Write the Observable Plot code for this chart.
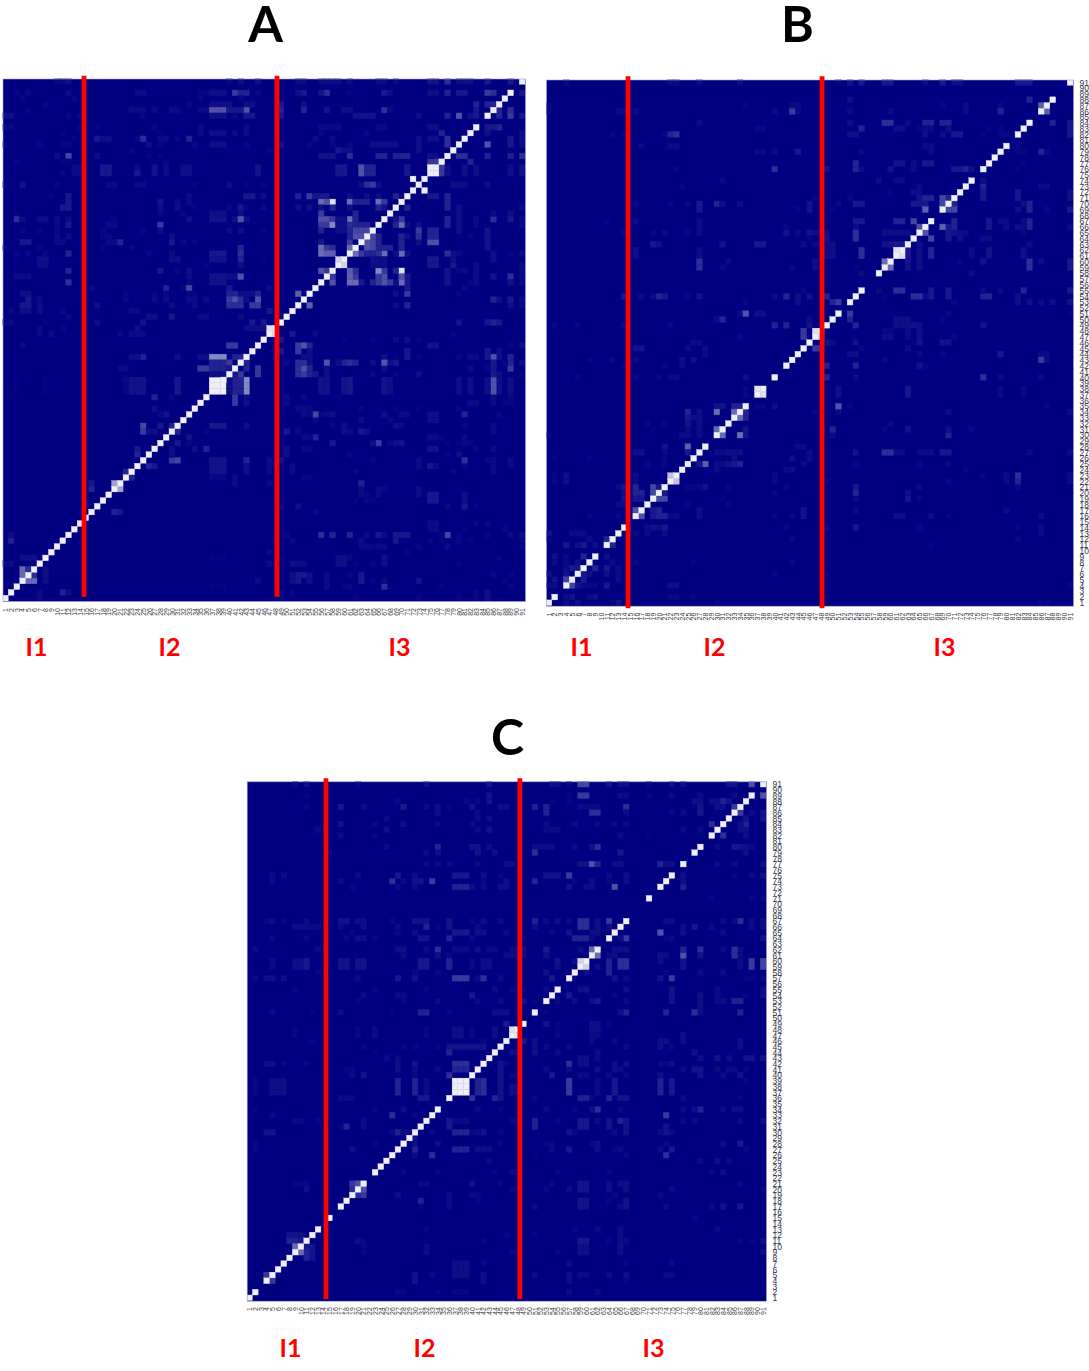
<!DOCTYPE html>
<html>
<head>
<meta charset="utf-8">
<script src="https://cdn.jsdelivr.net/npm/d3@7"></script>
<script src="https://cdn.jsdelivr.net/npm/@observablehq/plot@0.6"></script>
<style>
html,body{margin:0;padding:0;background:#fff;overflow:hidden}
#page{position:relative;width:1089px;height:1371px}
#page svg{position:absolute;background:transparent;overflow:visible}
</style>
</head>
<body>
<div id="page"></div>
<script>
const indices = [1,2,3,4,5,6,7,8,9,10,11,12,13,14,15,16,17,18,19,20,21,22,23,24,25,26,27,28,29,30,31,32,33,34,35,36,37,38,39,40,41,42,43,44,45,46,47,48,49,50,51,52,53,54,55,56,57,58,59,60,61,62,63,64,65,66,67,68,69,70,71,72,73,74,75,76,77,78,79,80,81,82,83,84,85,86,87,88,89,90,91];
const intervals = ["I1","I2","I3"];

// Diagonal cells present in each matrix
const diagA = [1,2,3,4,5,6,7,8,9,10,11,12,13,14,15,16,17,18,19,20,21,22,23,24,25,26,27,28,29,30,31,32,33,34,35,36,37,38,39,40,41,42,43,44,45,46,47,48,49,50,51,52,53,54,55,56,57,58,59,60,61,62,63,64,65,66,67,68,69,70,71,72,73,74,75,76,77,78,79,80,81,82,83,85,86,87,88,89,91];
const diagB = [1,2,4,5,6,7,8,9,11,12,13,14,16,17,18,19,20,21,22,23,24,25,26,27,28,30,31,32,33,34,35,37,38,40,42,43,44,45,46,47,48,49,50,51,53,54,55,58,59,60,61,62,63,64,65,66,67,69,70,71,72,73,74,76,77,78,79,80,82,83,84,86,87,88,91];
const diagC = [1,2,4,5,6,7,8,9,10,11,12,13,15,17,18,19,20,21,23,24,25,26,27,28,29,30,31,32,33,34,36,37,38,39,40,41,42,43,44,45,46,47,48,49,51,53,54,55,57,58,59,60,61,62,64,65,66,67,71,73,74,75,77,79,80,82,83,84,85,86,87,88,89,91];

// Off-diagonal similarity: [row, value, ...columns]; the matrices are symmetric
const pairsA = [
[91,.06,10,11,40],[91,.1,12,42,45],[89,.06,3,5,35,36,45],[89,.08,12,24,25],[89,.1,37,38,39],[89,.3,41],[89,.2,42,43],[88,.06,4,13,35,42],
[87,.06,8,33],[87,.1,37,38,39,40,43,44],[86,.06,5],[86,.08,23,24,25,27,30,31,35,36],[86,.4,37,38,39,43],[86,.15,40,41,42],
[85,.1,1,2,37,38,39],[85,.06,12,14,25,41],[85,.15,43,44],[83,.06,1,2,14,27],[83,.05,17],[83,.08,35,43],[82,.05,11,28],[82,.08,35,41,43],[82,.1,37,38,39],
[81,.05,13],[81,.15,17],[81,.1,18,19],[81,.06,24,31],[81,.25,25],[81,.08,28,29],[81,.2,33],[80,.05,1,7,28],[80,.06,11,12,34,43],[80,.1,26,37,38,39],
[79,.06,23,47],[78,.08,10,17],[78,.35,12],[78,.05,26,28],[77,.05,3,11,12,29],[76,.08,13,14,24,29],[76,.15,18,19],[76,.12,27,45],[76,.1,32,33],
[75,.06,11],[75,.08,13,14,29],[75,.15,18,19,24],[75,.12,27,45],[75,.1,32,33],[73,.05,1,34,43,46],[73,.12,4],[73,.06,10],[73,.08,19,20,24,25],[73,.1,40],
[71,.05,9],[71,.15,12,43,44],[71,.08,33],[71,.1,46],[70,.15,12],[70,.12,28],[70,.08,31,33],[69,.15,11,12,42],[69,.1,28,31],[69,.05,34,43],[69,.06,40],[69,.08,46],
[68,.05,3],[68,.06,28,32],[68,.1,37,38,39,42],[67,.25,3],[67,.08,4,10,12],[67,.1,7,8,33,41,43],[67,.06,20],[67,.12,37,38,39],[67,.4,42],
[66,.08,10,19,20],[66,.15,12],[66,.3,28],[65,.06,4,7,10,18,25],[65,.1,28,42],[65,.08,40],[65,.05,46],[64,.08,10,12],[64,.06,18,19],[64,.1,30],
[63,.15,4,5,30],[63,.08,10,11,19,20,32],[63,.2,21],[63,.06,34],[62,.05,1,7,18],[62,.06,23],[62,.2,42],[61,.06,3,5,8,26],[61,.2,12],[61,.08,30],[61,.15,37,38,39],[61,.25,42],
[60,.05,3,46],[60,.1,7,8,30,31],[60,.12,37,38,39],[60,.2,42],[59,.1,7,8,42],[59,.05,36],[58,.2,12],[58,.15,28],[58,.06,31],[58,.1,33],
[57,.08,3,4,5,33],[57,.12,37,38,39],[57,.1,40,41],[57,.4,42],[56,.25,12],[56,.06,33],[56,.12,37,38,39],[55,.06,16,32],[55,.2,29],[55,.35,33],[55,.15,40],[55,.08,47],
[54,.1,4,5,42,43,44],[54,.06,22,27,29,33,34],[54,.2,40,41,45],[53,.15,5],[53,.08,7,27,29,33,34,36],[53,.06,22],[53,.3,40],[53,.4,41,45],[53,.25,42],[53,.1,43],
[52,.15,4,5],[52,.08,7,30,34],[52,.1,17],[52,.25,40,41,42],[52,.3,44,45],[51,.06,2,11],[51,.1,4,5,7],[51,.08,23,24],[51,.15,47],[50,.06,12],[50,.1,26,27],[50,.15,30],[50,.08,35,36,42],
[49,.08,1,2,17],[49,.05,8],[49,.12,25],[49,.15,44,46],[48,.08,7],[48,.06,11],[48,.1,24,43,44,45,46],[47,.08,7,9,21,23,24,25],
[91,.08,52,53,56,57,58,59,61,66,67,69],[91,.12,75,76],[91,.25,78],[91,.1,80,81,82],[91,.15,85,89],
[89,.1,52,68,75,76],[89,.15,53,67,80,81],[89,.25,57,86],[89,.12,56],[89,.05,61],[89,.2,78],[89,.3,85],[87,.15,49],[87,.1,53],[87,.2,83,85,86],
[86,.2,49,53,89],[86,.12,57],[86,.1,60,61],[86,.25,67],[86,.08,68],[86,.15,83],[85,.15,49,78],[85,.12,62,63,64,65,87],[85,.4,80],[85,.1,82,83],[85,.2,89],
[83,.08,56,57,58,59,66,67],[83,.1,75,76],[83,.15,85,86,87],[82,.06,56,64],[82,.2,77],[81,.08,55,58],[81,.1,73,75,76],[81,.2,78],[81,.15,89],
[80,.12,49],[80,.06,54,58,61,73],[80,.1,65,66,67,68,69],[80,.2,78],[79,.1,59,60,61],[78,.12,56,57,58],[78,.25,61,80,81],[78,.2,66,67,69,70,71,85,89,91],[77,.15,75,82],
[76,.1,59,60,71,78,83],[76,.3,63,77],[76,.12,64,65],[75,.1,59,60,71,78,83],[75,.3,63,77],[75,.12,64,65],[73,.1,63,64,66,79,80,81,85],[73,.3,65],
[71,.2,52,69],[71,.3,54],[71,.15,55,56,57,75,76],[71,.1,61,64,66,78],[70,.4,56,61],[70,.7,58],[70,.2,62,63,64],[70,.5,66],[70,.25,67],[69,.1,52,54,56,61,71],[69,.2,78],
[67,.35,56,57],[67,.5,61],[67,.1,58],[67,.2,62],[67,.12,69],[67,.3,70],[66,.3,56,57],[66,.6,58],[66,.25,61],[66,.2,62,63,64,69,78],[66,.5,70],
[65,.35,62,63,64],[65,.2,56,75,76],[65,.3,73],[64,.4,62,63],[64,.25,73],[64,.2,75,76],[63,.15,56],[63,.3,61],[63,.4,75,76],[62,.25,56,57,58],[62,.5,61],[62,.2,66,67,68],
[61,.5,56],[61,.35,57,58],[61,.2,64,65,66],[61,.45,67],[61,.5,70],[61,.25,78],[60,.1,65,66,67,79],[60,.15,75,76],[59,.1,65,66,67],[59,.15,75,76,79],
[58,.4,56],[58,.45,61],[58,.25,62],[58,.6,66],[58,.3,67],[58,.2,69],[58,.9,70],[57,.45,61],[57,.3,62,58],[57,.4,67,70],[56,.5,61,62,70],[56,.4,67],[56,.3,68],
[60,.85,59],[76,.95,75],[74,.95,72],[54,.45,52],[48,.9,47],[21,.7,20],[38,.95,37],[39,.95,37,38],
[45,.08,4],[45,.3,40,41],[43,.2,25,41,42],[43,.1,23,24,31,35,36],[43,.6,37,38,39],[42,.2,37,38,39],[42,.3,40],[41,.3,35,36],[41,.2,37,38,39],[41,.15,40],[41,.08,21,22],[40,.1,37,38,39],
[39,.12,23,24,25],[39,.06,22],[39,.15,31],[39,.04,3,8],[38,.12,23,24,25],[38,.06,22],[38,.15,31],[38,.04,3,8],[37,.12,23,24,25],[37,.06,22],[37,.15,31],[37,.04,3,8],
[36,.2,27],[36,.06,30],[31,.35,25],[31,.15,28],[31,.2,30],[30,.3,25],[30,.1,26,27],[33,.12,29],[34,.1,27],[33,.06,28],[27,.15,24],[26,.2,24],[23,.2,22],[21,.15,16],[20,.2,16],
[6,.5,4],[5,.5,4],[6,.25,5],[11,.2,2],[12,.1,2],[7,.08,1,2],[8,.1,4,5,6]
];
const pairsB = [
[91,.06,4],[91,.08,22,23,27,34],[87,.06,1,35],[87,.08,43,44],[86,.06,1],[86,.08,13,14,16,40,44],[86,.3,43],[84,.08,27],[83,.06,37,38],[82,.06,12,14,21],[82,.2,22],[82,.25,23],
[80,.08,17,22,23],[79,.08,37,38,40],[79,.15,44],[76,.06,23],[76,.25,40],[74,.06,31],[73,.06,24],[71,.06,47],[70,.06,16,22,25],[70,.15,27],[70,.2,30],[70,.1,31],[70,.08,34],[70,.12,46],
[69,.15,27],[69,.06,44],[69,.12,46],[67,.05,11],[67,.08,16,27],[66,.05,42],[66,.08,27],[65,.06,14,19,25],[65,.08,21,27,44,47],[65,.12,42,46],[64,.05,46],
[63,.15,19,37,38],[63,.1,20],[63,.12,31],[63,.08,45,47],[62,.1,16],[62,.08,27],[61,.1,16],[61,.08,27],[60,.08,32],[60,.25,27],[60,.1,47],[59,.25,27],[59,.06,31,43],[59,.1,47],[55,.06,45],
[54,.15,14,21],[54,.08,17,19,40],[54,.2,20,42],[54,.06,25],[54,.12,27,46],[54,.1,44],[53,.1,44],[53,.06,35],[51,.08,34],[51,.4,35],[51,.1,37,38],[50,.08,30,46],[50,.2,31],
[49,.06,2,6,22],[49,.08,14],[49,.2,40,42],[49,.12,46],[48,.3,45],[47,.3,45],[47,.06,34],
[91,.05,51],[91,.12,53],[91,.15,55,59,60,69,82,83,84],[91,.08,66],[91,.1,71,72],[88,.1,53],[88,.2,84],[87,.06,69,79],[87,.08,73],[86,.08,53,60,73],[86,.2,79],
[84,.1,53],[84,.25,59,60],[84,.08,63],[84,.2,66,67,69,70],[83,.2,55],[83,.1,61,62,70],[83,.06,65],[83,.08,66,67],[83,.05,77,79],[82,.1,53,54,66,69],[82,.15,71,72],[82,.05,76],[82,.06,79,80],
[80,.08,66,67],[79,.08,55,67],[77,.2,54],[77,.12,61,62],[77,.08,64],[77,.15,66,67],[76,.12,49,60],[76,.2,54,73],[76,.08,55,64],[76,.15,71,72],[76,.1,74],[74,.08,58,61,62],[73,.08,65],[72,.05,60],[72,.1,64,65],
[71,.06,53],[71,.12,65],[71,.2,66,67,70],[71,.35,69],[70,.08,51],[70,.15,54,55,64,65,66],[70,.35,69],[69,.05,50],[69,.45,66],[67,.15,54,55],[67,.2,61,62],[67,.35,64],[66,.08,54],[66,.4,65],
[65,.1,46,47,48,49],[65,.25,54],[65,.1,59,60,61,62,63],[64,.12,49],[64,.25,54],[64,.3,67],[63,.08,47,48],[63,.1,49,50],[63,.12,59,60],[63,.15,61,62],[62,.1,49,50],[62,.25,55],[61,.1,49,50],[61,.25,55],[60,.06,47,48],[59,.06,47,48],[59,.05,54],[58,.08,55],
[54,.2,49],[53,.2,50,51],[53,.3,51],[60,.5,59],[62,.9,61],[87,.45,86],[48,.9,47],[38,.9,37],[23,.8,22],
[45,.12,16,17],[45,.08,25,28],[46,.08,26,27],[44,.08,28],[43,.06,8,12,16],[43,.1,24,26],[42,.06,14,21],[42,.08,24],[40,.06,6,16,20],[40,.08,22,23],[40,.1,35],[38,.06,35],[37,.06,35],
[35,.12,30,31],[35,.2,33,34],[34,.2,25],[34,.1,27],[34,.5,30,33],[33,.15,25],[33,.1,26,27],[32,.06,18,21],[32,.12,25],[32,.1,27],[31,.05,19],[31,.08,25,27],[31,.5,30],[30,.06,1],[30,.08,24,25,27],
[28,.12,21],[28,.45,25],[27,.1,16,17],[27,.06,21],[27,.15,25],[26,.05,2,8],[26,.06,21],[25,.06,18,21],[23,.06,2],[23,.1,4],[23,.08,16],[22,.06,2],[22,.1,4],[22,.08,16],
[21,.15,14],[21,.08,13],[21,.2,16],[21,.35,19],[21,.15,20],[20,.2,16,17],[20,.35,19],[20,.1,14],[19,.12,14],[19,.15,16,17],[18,.08,13,14],[17,.4,16],[16,.06,8,13],
[13,.12,1],[13,.08,5,6,7],[12,.05,1],[12,.08,8],[12,.2,11],[11,.15,4,7],[11,.1,6,9],[9,.1,2],[9,.2,7],[9,.06,4],[8,.08,2],[8,.06,4],[8,.1,6],[7,.08,4],[7,.15,5,6],[6,.1,1],[6,.12,4],[5,.12,2],[5,.35,4],[4,.08,1,2]
];
const pairsC = [
[91,.08,9],[91,.1,11],[91,.06,20],[91,.1,32],[91,.12,43],[89,.05,11],[89,.12,43],[88,.12,43],[88,.06,27,39,41],[87,.06,11,36],[87,.15,17,28],[87,.08,21,32],[87,.1,34,45,46],[87,.12,40],
[86,.1,34],[86,.08,41],[85,.08,25,41],[85,.1,43],[84,.12,17],[84,.08,23,34,40],[84,.1,28],[83,.08,13,41],[83,.1,25],[83,.12,43],[82,.08,17],[82,.06,23],
[80,.08,25],[80,.2,34],[80,.12,40,41],[80,.1,43],[79,.06,15],[79,.08,32],[79,.1,34,44],[79,.12,41],[77,.08,32,34,36,41],[77,.1,46,47],
[75,.08,5,7,20,30],[75,.15,27,37,38,39],[75,.1,42],[75,.06,45],[74,.08,5,17,28],[74,.25,26],[74,.12,30,31],[74,.3,33],[74,.06,42],[74,.1,46],[73,.06,19],[73,.08,27,30,42],[73,.2,37,38,39],[73,.1,40,45,46],
[67,.06,4,26,40],[67,.1,5,20,21,42],[67,.06,7],[67,.08,11,45],[67,.12,17,18,30,31,32,36],[66,.1,9,10,21],[66,.08,11,12,13,17,27,41],[66,.2,32],[66,.06,34],[66,.12,36],
[65,.06,19,27],[65,.08,30,46],[65,.15,37,38,39],[65,.1,41,42],[64,.08,5,40],[64,.06,11,18,23],[64,.1,20,21],[64,.12,31,32],[64,.2,36],
[62,.08,2,13,32],[62,.1,27,28,41],[62,.25,34],[62,.08,37,38,39,43,44,47],[61,.08,28,46,47],[61,.1,34],[61,.06,36],
[60,.08,5,40],[60,.1,9,10],[60,.15,11,31,32],[60,.12,17,18,20,21],[60,.2,36],[60,.1,42,43],[59,.08,5,40],[59,.1,9,10],[59,.15,11,31,32],[59,.12,17,18,20,21],[59,.2,36],[59,.1,42,43],
[58,.06,13,30,34],[57,.08,2,20,41,45],[57,.1,4,5,7],[57,.15,27],[57,.12,30],[57,.3,37,38,39],[57,.25,42],[55,.06,9,23,32],[55,.08,44],[55,.06,47],[54,.08,21,27,28],[54,.15,40],
[53,.06,20,28],[53,.08,34,41,45],[51,.08,5,17],[51,.05,12,26],[51,.2,31,32],[51,.06,36],[51,.1,44,45,46],[49,.15,46],
[48,.06,9,20,32],[48,.08,23],[48,.1,37,38,44],[48,.06,40],[47,.06,9,20,32],[47,.08,23],[47,.1,37,38,44],[47,.06,40],[46,.05,12],[46,.06,42],[45,.06,21,28,30,34],[45,.12,36,37,38,39,40,41,42],[44,.05,23],[44,.2,36],[43,.08,25,27],
[91,.1,54,55],[91,.06,57],[91,.35,59,60],[91,.12,64,85,86],[91,.1,66,67,75,77],[91,.06,71],[91,.4,89],[89,.3,59,60],[89,.06,57,71],[89,.08,66,67,75,80,86],[89,.4,91],
[88,.05,54,57],[88,.1,79,80,82,83],[88,.2,84],[88,.12,85],[87,.2,51,53],[87,.08,59,60,61,62],[87,.25,67],[87,.12,80],[87,.1,83,84],[87,.3,86],[86,.2,53],[86,.25,61,62],[86,.08,67,77],[86,.06,75],[86,.15,80],
[84,.08,53,58,62,65,67],[84,.25,82],[83,.08,53,54,55,77,80],[82,.08,66],[82,.05,71],[80,.1,51,52,53,54],[80,.25,62],[80,.12,61],[80,.08,58],[79,.25,51],[79,.15,66],
[77,.12,59,60],[77,.4,61],[77,.2,62,73],[77,.1,65,66,74,75],[75,.12,53,54,55],[75,.3,57],[75,.08,64],[75,.1,67],[74,.2,51],[74,.06,58,64],[74,.08,61],[74,.1,67],[73,.12,57],[73,.1,60,61],[73,.4,65],
[67,.2,51],[67,.08,53],[67,.1,55,62],[67,.08,57],[67,.25,59,60],[67,.3,64],[66,.1,51,62,64],[66,.25,59,60],[65,.06,54],[65,.12,57],[65,.1,61,62],[64,.2,58,59,60],[64,.08,61],
[62,.1,49,59],[62,.15,53],[62,.5,61],[61,.08,49],[61,.1,53],[60,.12,55],[60,.1,58],[60,.85,59],[59,.1,55],[58,.1,53],[57,.15,54],[55,.08,53],[54,.15,57],[53,.12,49],[53,.05,51],[51,.05,53],[49,.1,53,61,62],[49,.06,55,64],[48,.05,55],[48,.1,61,62],
[42,.1,4,5],[42,.06,7,11],[42,.1,27],[42,.12,30],[42,.25,37,38,39],[41,.06,18,19],[41,.1,27],[41,.08,30,34],[41,.2,37,38,39],[40,.08,19],[40,.12,21],[40,.06,30],[40,.25,36],
[39,.06,2],[39,.1,5,6,7],[39,.2,27,30],[39,.08,32],[38,.06,2],[38,.1,5,6,7],[38,.2,27,30],[38,.08,32],[37,.06,2],[37,.1,5,6,7],[37,.2,27,30],[37,.08,32],[36,.08,17,18,19],[36,.15,31,32],
[34,.05,2],[34,.06,23],[34,.1,28],[33,.06,5,30],[33,.25,26],[32,.08,9,10,21],[32,.06,13],[31,.05,17],[31,.2,18],[31,.08,21],[30,.12,4,5],[30,.08,26],[30,.2,27],[30,.1,28,29],[28,.06,2,23],[27,.06,2],[27,.1,19],
[21,.06,9,10,11],[20,.1,11],[21,.3,19],[21,.4,20],[20,.25,19],[12,.12,8,9,10],[11,.2,8,9],[11,.15,10],[10,.5,9],[5,.3,4],[48,.9,47],[38,.95,37],[39,.95,37,38]
];

// Red interval boundaries, on the matrix index axis
const splitsA = [14.11, 47.72];
const splitsB = [14.08, 47.58];
const splitsC = [13.8, 47.78];

function buildCells(diag, pairs) {
  const m = new Map();
  const put = (c, r, v) => { const k = c + "," + r; if (!m.has(k) || m.get(k).v < v) m.set(k, {col: c, row: r, v}); };
  for (const [row, v, ...cols] of pairs) for (const c of cols) { put(c, row, v); put(row, c, v); }
  for (const d of diag) put(d, d, 0.95);
  return [...m.values()];
}

function panel({letter, diag, pairs, splits, left, right, top, bottom, svgLeft, svgTop, svgW, svgH, yLabels, ruleLo, ruleHi, labelPx, letterPx, letterPy, labelPy, tickPad}) {
  const cx = (right - left) / 91, cy = (bottom - top) / 91;
  const toX = px => (px - left) / cx;
  const toY = py => (bottom - py) / cy;
  const marks = [
    Plot.frame({fill: "#000080"}),
    Plot.rect(buildCells(diag, pairs), {x1: d => d.col - 1, x2: d => d.col, y1: d => d.row - 1, y2: d => d.row, fill: "v", stroke: "v", strokeWidth: 0.35, clip: "frame"}),
    Plot.frame({stroke: "#a0a0d0", strokeWidth: 0.6}),
    Plot.ruleX(splits, {y1: ruleLo, y2: ruleHi, stroke: "#ff0000", strokeWidth: 4.8}),
    Plot.axisX(indices.map(d => d - 0.5), {anchor: "bottom", tickSize: 0, tickPadding: tickPad, tickRotate: -90, fontSize: 7, fill: "#3a3a44", tickFormat: d => d + 0.5, label: null, fontFamily: "Liberation Sans"}),
    Plot.text([letter], {x: toX(letterPx), y: toY(letterPy), fontSize: 50, fontWeight: 700, fontFamily: "Lato", fill: "#000"}),
    Plot.text(intervals, {x: (d, i) => toX(labelPx[i]), y: toY(labelPy), fontSize: 25, fontWeight: 700, fontFamily: "Lato", fill: "#ff0000"})
  ];
  if (yLabels) marks.push(Plot.axisY(indices.map(d => d - 0.5), {anchor: "right", tickSize: 0, tickPadding: 6, fontSize: 8.5, fill: "#33364a", textAnchor: "start", tickFormat: d => d + 0.5, label: null, fontFamily: "Liberation Sans"}));
  const svg = Plot.plot({
    width: svgW, height: svgH,
    marginLeft: left - svgLeft, marginRight: svgLeft + svgW - right,
    marginTop: top - svgTop, marginBottom: svgTop + svgH - bottom,
    x: {type: "linear", domain: [0, 91], axis: null},
    y: {type: "linear", domain: [0, 91], axis: null},
    color: {type: "pow", exponent: 1.25, domain: [0, 1], range: ["#000080", "#ffffff"]},
    marks
  });
  svg.style.left = svgLeft + "px";
  svg.style.top = svgTop + "px";
  document.getElementById("page").appendChild(svg);
}

panel({letter: "A", diag: diagA, pairs: pairsA, splits: splitsA, left: 2.5, right: 525, top: 78.5, bottom: 601,
  svgLeft: 0, svgTop: 0, svgW: 540, svgH: 670, yLabels: false, ruleLo: 0.75, ruleHi: 91.46,
  labelPx: [36, 169, 399], letterPx: 265, letterPy: 25, labelPy: 647, tickPad: 6.5});
panel({letter: "B", diag: diagB, pairs: pairsB, splits: splitsB, left: 546, right: 1073, top: 79.5, bottom: 605.7,
  svgLeft: 540, svgTop: 0, svgW: 549, svgH: 670, yLabels: true, ruleLo: -0.45, ruleHi: 91.56,
  labelPx: [581, 714, 944], letterPx: 797, letterPy: 25, labelPy: 647, tickPad: 6.5});
panel({letter: "C", diag: diagC, pairs: pairsC, splits: splitsC, left: 246.7, right: 766, top: 781.3, bottom: 1300.7,
  svgLeft: 230, svgTop: 700, svgW: 570, svgH: 671, yLabels: true, ruleLo: 0.3, ruleHi: 91.54,
  labelPx: [290, 424, 653], letterPx: 507, letterPy: 738, labelPy: 1348, tickPad: 6});
</script>
</body>
</html>
